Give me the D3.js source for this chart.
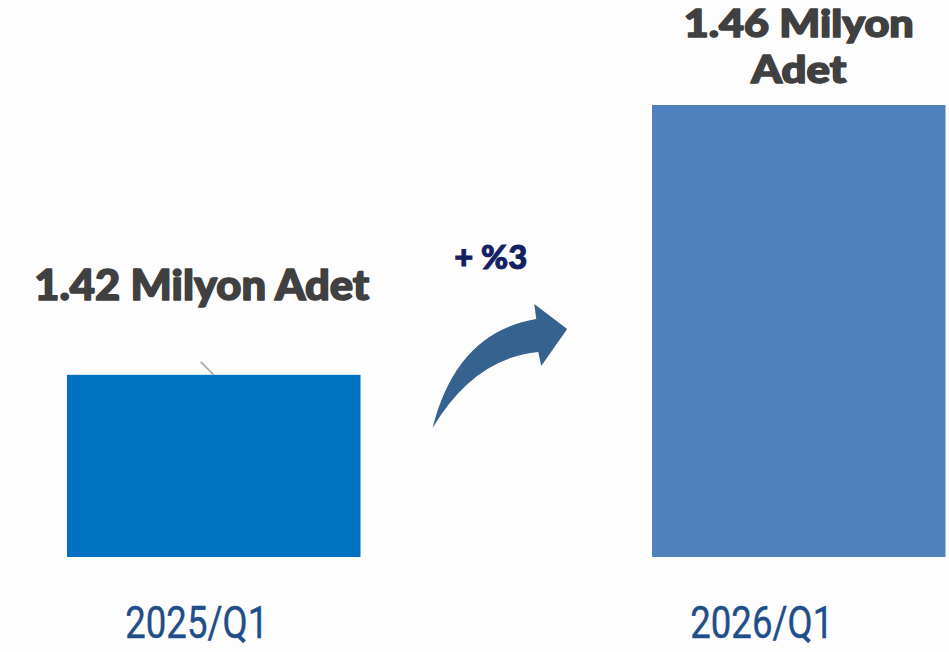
<!DOCTYPE html>
<html>
<head>
<meta charset="utf-8">
<script src="https://cdn.jsdelivr.net/npm/d3@7"></script>
<style>
  html, body { margin: 0; padding: 0; background: #fdfdfd; }
  svg { display: block; }
</style>
</head>
<body>
<svg id="chart" width="949" height="652"></svg>
<script>
// ---- data ----
const categories = ["2025/Q1", "2026/Q1"];
const values = [1.42, 1.46];
const valueLabels = [["1.42 Milyon Adet"], ["1.46 Milyon", "Adet"]];
const changeLabel = "+ %3";
const yDomain = [1.393, 1.46];

// ---- layout / style ----
const W = 949, H = 652;
const barColors = ["#0070C0", "#4F81BD"];
const catLabelDx = [-17, -37];
const valueFont = [42, 38];
const valueDx = [-12, 0];
const valueLen = [[335], [230, 95]];

const svg = d3.select("#chart");

const x = d3.scaleBand()
  .domain(categories)
  .range([67, 945.5])
  .paddingInner(0.4983)
  .paddingOuter(0);

const y = d3.scaleLinear().domain(yDomain).range([557, 105]);

const data = categories.map((c, i) => ({ c, v: values[i], i }));

// bars
svg.selectAll("rect.bar").data(data).enter().append("rect")
  .attr("class", "bar")
  .attr("x", d => x(d.c))
  .attr("y", d => y(d.v))
  .attr("width", x.bandwidth())
  .attr("height", d => y(yDomain[0]) - y(d.v))
  .attr("fill", d => barColors[d.i]);

// small leader line for first label
svg.append("line")
  .attr("x1", x(categories[0]) + x.bandwidth() / 2 - 13)
  .attr("y1", y(values[0]) - 13)
  .attr("x2", x(categories[0]) + x.bandwidth() / 2)
  .attr("y2", y(values[0]))
  .attr("stroke", "#a6a6a6").attr("stroke-width", 1.5);

// value labels
data.forEach(d => {
  const lines = valueLabels[d.i];
  const fs = valueFont[d.i];
  const lh = 46;
  const cx = x(d.c) + x.bandwidth() / 2 + valueDx[d.i];
  const baseY = d.i === 0 ? y(d.v) - 75 : y(d.v) - 22 - (lines.length - 1) * lh;
  lines.forEach((ln, k) => {
    svg.append("text")
      .attr("x", cx)
      .attr("y", baseY + k * lh)
      .attr("text-anchor", "middle")
      .attr("font-family", "Lato, 'Open Sans', sans-serif")
      .attr("font-weight", 900)
      .attr("font-size", fs)
      .attr("fill", "#404040")
      .attr("stroke", "#404040")
      .attr("stroke-width", 1.6)
      .attr("stroke-linejoin", "round")
      .attr("textLength", valueLen[d.i][k])
      .attr("lengthAdjust", "spacingAndGlyphs")
      .text(ln);
  });
});

// category labels
svg.selectAll("text.cat").data(data).enter().append("text")
  .attr("class", "cat")
  .attr("x", d => x(d.c) + x.bandwidth() / 2 + catLabelDx[d.i])
  .attr("y", 638)
  .attr("text-anchor", "middle")
  .attr("font-family", "Roboto, sans-serif")
  .attr("font-size", 44)
  .attr("textLength", 143)
  .attr("lengthAdjust", "spacingAndGlyphs")
  .attr("fill", "#1F4E89")
  .attr("stroke", "#1F4E89")
  .attr("stroke-width", 0.4)
  .text(d => d.c);

// growth arrow between the bars
const gapL = x(categories[0]) + x.bandwidth();
const gapR = x(categories[1]);
const gx = d3.scaleLinear().domain([0, 1]).range([gapL, gapR]);
const p = d3.path();
p.moveTo(gx(0.247), 428);
p.quadraticCurveTo(gx(0.33), 332, gx(0.603), 319);
p.lineTo(gx(0.596), 304);
p.lineTo(gx(0.709), 329);
p.lineTo(gx(0.620), 366);
p.lineTo(gx(0.610), 352);
p.quadraticCurveTo(gx(0.39), 358, gx(0.247), 428);
p.closePath();
svg.append("path").attr("d", p.toString()).attr("fill", "#35628F");

svg.append("text")
  .attr("x", gx(0.447))
  .attr("y", 269)
  .attr("text-anchor", "middle")
  .attr("font-family", "Lato, sans-serif")
  .attr("font-weight", 900)
  .attr("font-size", 33)
  .attr("fill", "#132063")
  .attr("stroke", "#132063")
  .attr("stroke-width", 1)
  .attr("textLength", 73)
  .attr("lengthAdjust", "spacingAndGlyphs")
  .text(changeLabel);
</script>
</body>
</html>
